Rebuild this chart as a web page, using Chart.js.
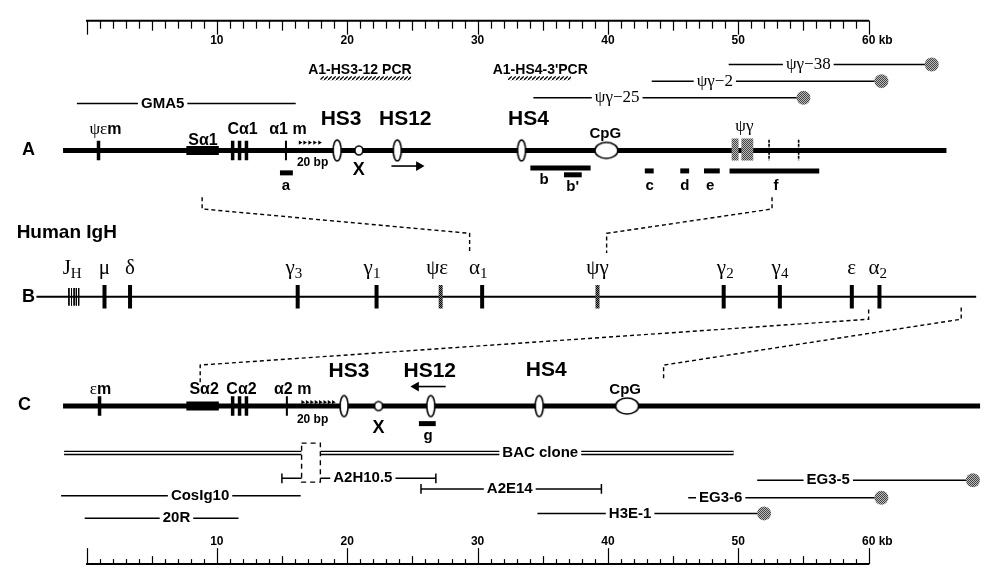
<!DOCTYPE html>
<html>
<head>
<meta charset="utf-8">
<script src="https://cdn.jsdelivr.net/npm/chart.js@4.4.1/dist/chart.umd.min.js"></script>
<style>
html, body { margin: 0; padding: 0; background: #fff; }
#wrap { width: 988px; height: 576px; }
</style>
</head>
<body>
<div id="wrap"><canvas id="mapa"></canvas></div>
<script>
// ===== Datos (posiciones en kb) =====
const rulerLength = 60;
const rulerLabels = [10, 20, 30, 40, 50, 60];

const mapNames = ['A', 'B', 'C'];
const mapStart = [-1.8, -3.84, -1.8];
const mapEnd = [65.97, 68.25, 68.55];

// Mapa A (región α1)
const genesA = [0.92, 11.21, 11.74, 12.27];          // ψεm, Cα1
const membraneA = [15.3];                              // α1 m
const switchA = [7.66, 10.15];                         // Sα1
const hsA = [19.23, 23.84, 33.37];                     // HS3, HS12, HS4
const xSiteA = [20.89];
const cpgA = [39.88];
const repeatsA = [16.38, 16.73, 17.11, 17.49, 17.87];  // 20 bp
const psiGammaA = [[49.49, 50.02], [50.24, 51.15]];
const psiTicksA = [52.36, 54.63];
const arrowA = [23.39, 25.5];

// Mapa B (IgH humano)
const genesB = [1.38, 3.34, 16.2, 22.25, 30.35, 48.88, 53.19, 58.71, 60.83];
const pseudoB = [27.17, 39.2];
const jhB = [-1.35, -1.15, -0.95, -0.78, -0.6];

// Mapa C (región α2)
const genesC = [1.0, 11.21, 11.74, 12.27];
const membraneC = [15.37];
const switchC = [7.66, 10.15];
const hsC = [19.76, 26.41, 34.73];
const xSiteC = [22.4];
const cpgC = [41.47];
const repeatsC = [16.58, 16.92, 17.26, 17.6, 17.93, 18.27, 18.6, 18.93];
const arrowC = [27.55, 25.28];

// Sondas
const probeNames = ['a', 'b', "b'", 'c', 'd', 'e', 'f', 'g'];
const probeStart = [14.84, 34.05, 36.63, 42.83, 45.55, 47.37, 49.33, 25.5];
const probeEnd = [15.83, 38.67, 37.99, 43.51, 46.23, 48.58, 56.21, 26.79];
const probeLabelKb = [15.3, 35.1, 37.3, 43.2, 45.9, 47.85, 52.9, 26.2];

// Productos de PCR
const pcrNames = ['A1-HS3-12 PCR', "A1-HS4-3'PCR"];
const pcrStart = [17.94, 32.32];
const pcrEnd = [24.9, 37.16];
const pcrLabelKb = [20.97, 34.81];

// Clones
const cloneNames = ['GMA5', 'ψγ−38', 'ψγ−2', 'ψγ−25', 'A2H10.5', 'A2E14', 'CosIg10', '20R', 'EG3-5', 'EG3-6', 'H3E-1'];
const cloneStart = [-0.74, 49.26, 43.36, 34.28, 14.99, 25.66, -1.95, -0.14, 51.45, 46.16, 34.59];
const cloneEnd = [16.05, 64.84, 60.98, 55.0, 26.8, 39.5, 16.43, 11.66, 68.0, 60.98, 51.98];
const cloneLabelKb = [5.84, 55.37, 48.2, 40.71, 21.2, 32.47, 8.71, 6.9, 56.9, 48.65, 41.7];
const cloneTail = ['', 'dot', 'dot', 'dot', 'bars', 'bars', '', '', 'dot', 'dot', 'dot'];

const bacName = 'BAC clone';
const bacRange = [-1.72, 49.64];
const bacGap = [16.5, 17.94];
const bacLabelKb = 34.81;

// Conectores punteados entre mapas
const linkTopKb = [8.87, 52.59, 60.0, 67.1];
const linkBottomKb = [29.39, 39.9, 8.72, 44.27];

// Rótulos de los mapas
const labelText = [
  'A', 'ψε|m', 'Sα1', 'Cα1', 'α1 m', 'HS3', 'HS12', 'HS4', 'CpG', 'ψγ', '20 bp', 'X',
  'Human IgH', 'B', 'J_H', 'μ', 'δ', 'γ_3', 'γ_1', 'ψε', 'α_1', 'ψγ', 'γ_2', 'γ_4', 'ε', 'α_2',
  'C', 'ε|m', 'Sα2', 'Cα2', 'α2 m', 'HS3', 'HS12', 'HS4', 'CpG', '20 bp', 'X'
];
const labelKb = [
  -4.45, 1.45, 8.94, 11.97, 15.45, 19.53, 24.45, 33.9, 39.8, 50.47, 17.34, 20.89,
  -5.36, -4.45, -1.1, 1.38, 3.34, 15.9, 21.9, 26.9, 30.05, 39.2, 49.0, 53.2, 58.7, 60.7,
  -4.75, 1.07, 9.02, 11.89, 15.82, 20.13, 26.33, 35.26, 41.32, 17.34, 22.4
];

// ===== Disposición (filas en unidades verticales) =====
const ROW = {
  rulerTop: 14, rulerTopText: 35, pcrText: 65, pcrBar: 73,
  A: 147, human: 231, bText: 268, B: 297, C: 409,
  bac: 457, gapTop: 447, gapBottom: 487,
  rulerBottomText: 548, rulerBottom: 571
};
const cloneRow = [99, 59, 76, 93, 483, 494, 501, 524, 485, 503, 519];
const probeRow = [170, 165, 172, 168, 168, 168, 168, 427];
const probeTextRow = [183, 177, 184, 183, 183, 183, 183, 440];
const linkRows = [[195, 207, 232, 252], [195, 207, 232, 252], [310, 320, 367, 385], [308, 320, 367, 382]];
const labelRow = [
  147, 126, 137, 126, 126, 115, 115, 115, 130, 122, 160, 167,
  231, 297, 268, 268, 268, 268, 268, 268, 268, 268, 268, 268, 268, 268,
  408, 392, 392, 392, 392, 373, 373, 372, 392, 423, 432
];
const labelStyle = [
  'letra', 'mixto', 'gen', 'gen', 'gen', 'hs', 'hs', 'hs', 'cpg', 'griegoA', 'chico', 'equis',
  'titulo', 'letra', 'griego', 'griego', 'griego', 'griego', 'griego', 'griego', 'griego', 'griego', 'griego', 'griego', 'griego', 'griego',
  'letra', 'mixto', 'gen', 'gen', 'gen', 'hs', 'hs', 'hs', 'cpg', 'chico', 'equis'
];
const cloneStyle = ['clon', 'griegoA', 'griegoA', 'griegoA', 'clon', 'clon', 'clon', 'clon', 'clon', 'clon', 'clon'];

const SANS = '"Liberation Sans", Arial, Helvetica, sans-serif';
const SERIF = '"Liberation Serif", "Times New Roman", serif';
const ESTILOS = {
  letra:   { font: `bold 18px ${SANS}` },
  titulo:  { font: `bold 19px ${SANS}`, align: 'left' },
  hs:      { font: `bold 21px ${SANS}` },
  gen:     { font: `bold 16px ${SANS}` },
  cpg:     { font: `bold 15px ${SANS}` },
  chico:   { font: `bold 12px ${SANS}` },
  equis:   { font: `bold 18px ${SANS}` },
  sonda:   { font: `bold 15px ${SANS}` },
  clon:    { font: `bold 15px ${SANS}` },
  pcr:     { font: `bold 14px ${SANS}` },
  griego:  { font: `21px ${SERIF}`, sub: `15px ${SERIF}` },
  griegoA: { font: `17px ${SERIF}` },
  mixto:   { font: `17px ${SERIF}`, alt: `bold 16px ${SANS}` },
  regla:   { font: `bold 12px ${SANS}` }
};

// ===== Patrones y marcas =====
function patron(size, pintar) {
  const c = document.createElement('canvas');
  c.width = size; c.height = size;
  const g = c.getContext('2d');
  pintar(g, size);
  return g.createPattern(c, 'repeat');
}
const punteado = patron(2, g => {
  g.fillStyle = '#bbb'; g.fillRect(0, 0, 2, 2);
  g.fillStyle = '#444'; g.fillRect(0, 0, 1, 1); g.fillRect(1, 1, 1, 1);
});
const punteadoOscuro = patron(2, g => {
  g.fillStyle = '#888'; g.fillRect(0, 0, 2, 2);
  g.fillStyle = '#000'; g.fillRect(0, 0, 1, 1); g.fillRect(1, 1, 1, 1);
});
const rayado = patron(4, g => {
  g.strokeStyle = '#000'; g.lineWidth = 1.3;
  g.beginPath(); g.moveTo(0, 4); g.lineTo(4, 0); g.stroke();
});

function ovalo(w, h) {
  const c = document.createElement('canvas');
  c.width = w + 4; c.height = h + 4;
  const g = c.getContext('2d');
  g.beginPath();
  g.ellipse(c.width / 2, c.height / 2, w / 2, h / 2, 0, 0, Math.PI * 2);
  g.fillStyle = '#fff'; g.fill();
  g.lineWidth = 1.6; g.strokeStyle = '#000'; g.stroke();
  return c;
}
const ovaloHS = ovalo(8, 21);
const ovaloX = ovalo(8, 9);
const ovaloCpG = ovalo(23, 16);

// ===== Construcción de datasets =====
const brk = x => ({ x, y: null });
const hseg = (x1, x2, y) => [{ x: x1, y }, { x: x2, y }, brk(x2)];
const vseg = (x, y1, y2) => [{ x, y: y1 }, { x, y: y2 }, brk(x)];

const conjuntos = [];
function add(data, opts) {
  conjuntos.push(Object.assign({
    data, showLine: true, borderColor: '#000', backgroundColor: '#000',
    borderWidth: 1.5, pointRadius: 0, pointHoverRadius: 0, spanGaps: false,
    fill: false, clip: false
  }, opts || {}));
}
function puntos(xs, row, opts) {
  add(xs.map(k => ({ x: k, y: row })), Object.assign({ showLine: false, borderWidth: 0 }, opts));
}

// conectores
linkTopKb.forEach((k, i) => {
  const r = linkRows[i];
  add([{ x: k, y: r[0] }, { x: k, y: r[1] }, { x: linkBottomKb[i], y: r[2] }, { x: linkBottomKb[i], y: r[3] }],
    { borderWidth: 1.4, borderDash: [4, 3] });
});

// líneas de los mapas
const mapRowY = [ROW.A, ROW.B, ROW.C];
const mapWidth = [5, 2, 5];
mapNames.forEach((n, i) => add(hseg(mapStart[i], mapEnd[i], mapRowY[i]), { borderWidth: mapWidth[i] }));

// clones
cloneNames.forEach((n, i) => add(hseg(cloneStart[i], cloneEnd[i], cloneRow[i]), { borderWidth: 1.5 }));
cloneNames.forEach((n, i) => {
  if (cloneTail[i] === 'bars') {
    add([...vseg(cloneStart[i], cloneRow[i] - 5, cloneRow[i] + 5), ...vseg(cloneEnd[i], cloneRow[i] - 5, cloneRow[i] + 5)], { borderWidth: 1.5 });
  }
});

// BAC (línea doble hueca)
const bacData = [...hseg(bacRange[0], bacGap[0], ROW.bac), ...hseg(bacGap[1], bacRange[1], ROW.bac)];
add(bacData, { borderWidth: 4.5 });
add(bacData, { borderWidth: 1.6, borderColor: '#fff' });
add([{ x: bacGap[0], y: ROW.gapTop }, { x: bacGap[1], y: ROW.gapTop }, { x: bacGap[1], y: ROW.gapBottom },
     { x: bacGap[0], y: ROW.gapBottom }, { x: bacGap[0], y: ROW.gapTop }],
  { borderWidth: 1.4, borderDash: [5, 4], fill: 'shape', backgroundColor: '#fff' });

// PCR rayado
pcrNames.forEach((n, i) => add(hseg(pcrStart[i], pcrEnd[i], ROW.pcrBar), { borderWidth: 4, borderColor: rayado }));

// regiones de switch
add([...hseg(switchA[0], switchA[1], ROW.A), ...hseg(switchC[0], switchC[1], ROW.C)], { borderWidth: 9 });

// genes
add([...genesA.flatMap(k => vseg(k, ROW.A - 10, ROW.A + 10)),
     ...genesC.flatMap(k => vseg(k, ROW.C - 10, ROW.C + 10))], { borderWidth: 3.5 });
add(genesB.flatMap(k => vseg(k, ROW.B - 12, ROW.B + 12)), { borderWidth: 4 });
add([...membraneA.flatMap(k => vseg(k, ROW.A - 10, ROW.A + 10)),
     ...membraneC.flatMap(k => vseg(k, ROW.C - 10, ROW.C + 10))], { borderWidth: 2 });
add(jhB.flatMap(k => vseg(k, ROW.B - 9, ROW.B + 9)), { borderWidth: 1 });
add(psiTicksA.flatMap(k => vseg(k, ROW.A - 11, ROW.A + 10)), { borderWidth: 1.6, borderDash: [3, 1] });
add(pseudoB.flatMap(k => vseg(k, ROW.B - 12, ROW.B + 12)), { borderWidth: 4, borderColor: punteadoOscuro });
add(psiGammaA.flatMap(r => hseg(r[0], r[1], ROW.A - 1)), { borderWidth: 22, borderColor: punteado });

// sondas
probeNames.forEach((n, i) => add(hseg(probeStart[i], probeEnd[i], probeRow[i]), { borderWidth: 5 }));

// flechas de orientación
add([{ x: arrowA[0], y: 163 }, { x: arrowA[1], y: 163 }],
  { borderWidth: 1.6, pointRadius: [0, 4], pointStyle: 'triangle', pointRotation: [0, 90] });
add([{ x: arrowC[0], y: 389 }, { x: arrowC[1], y: 389 }],
  { borderWidth: 1.6, pointRadius: [0, 4], pointStyle: 'triangle', pointRotation: [0, 270] });

// repeticiones de 20 bp
puntos(repeatsA, ROW.A - 8, { pointStyle: 'triangle', pointRotation: 90, pointRadius: 2.4 });
puntos(repeatsC, ROW.C - 4, { pointStyle: 'triangle', pointRotation: 90, pointRadius: 2.4 });

// sitios HS, X y CpG
puntos(hsA, ROW.A, { pointStyle: ovaloHS, pointRadius: 5 });
puntos(hsC, ROW.C, { pointStyle: ovaloHS, pointRadius: 5 });
puntos(xSiteA, ROW.A, { pointStyle: ovaloX, pointRadius: 4 });
puntos(xSiteC, ROW.C, { pointStyle: ovaloX, pointRadius: 4 });
puntos(cpgA, ROW.A, { pointStyle: ovaloCpG, pointRadius: 6 });
puntos(cpgC, ROW.C, { pointStyle: ovaloCpG, pointRadius: 6 });

// extremos punteados de los clones
add(cloneNames.map((n, i) => cloneTail[i] === 'dot' ? { x: cloneEnd[i], y: cloneRow[i] } : brk(cloneEnd[i])),
  { showLine: false, pointStyle: 'circle', pointRadius: 7, backgroundColor: punteado, borderWidth: 0 });

// orden de dibujo: los primeros quedan debajo
conjuntos.forEach((d, i) => { d.order = conjuntos.length - i; });

// ===== Texto y reglas =====
function piezas(t, est) {
  if (t.includes('_')) {
    const [a, b] = t.split('_');
    return [{ s: a, font: est.font, dy: 0 }, { s: b, font: est.sub, dy: 6 }];
  }
  if (t.includes('|')) {
    const [a, b] = t.split('|');
    return [{ s: a, font: est.font, dy: 0 }, { s: b, font: est.alt, dy: 0 }];
  }
  return [{ s: t, font: est.font, dy: 0 }];
}

function escribir(ctx, t, px, py, est, fondo) {
  const ps = piezas(t, est);
  ps.forEach(p => { ctx.font = p.font; p.w = ctx.measureText(p.s).width; });
  const total = ps.reduce((s, p) => s + p.w, 0);
  let x0 = est.align === 'left' ? px : px - total / 2;
  if (fondo) {
    ctx.fillStyle = '#fff';
    ctx.fillRect(x0 - 3, py - 6, total + 6, 12);
  }
  ctx.fillStyle = '#000';
  ctx.textAlign = 'left';
  ctx.textBaseline = 'middle';
  ps.forEach(p => { ctx.font = p.font; ctx.fillText(p.s, x0, py + p.dy); x0 += p.w; });
}

function regla(ctx, x, y, fila, filaTexto, dir, largos) {
  const y0 = y.getPixelForValue(fila);
  ctx.strokeStyle = '#000';
  ctx.lineWidth = 2;
  ctx.beginPath();
  ctx.moveTo(x.getPixelForValue(0) - 0.5, y0);
  ctx.lineTo(x.getPixelForValue(rulerLength) + 0.5, y0);
  ctx.stroke();
  ctx.lineWidth = 1.2;
  for (let k = 0; k <= rulerLength; k++) {
    const largo = k % 10 === 0 ? largos[2] : (k % 5 === 0 ? largos[1] : largos[0]);
    const px = Math.round(x.getPixelForValue(k)) + 0.5;
    ctx.beginPath();
    ctx.moveTo(px, y0);
    ctx.lineTo(px, y0 + dir * largo);
    ctx.stroke();
  }
  const yt = y.getPixelForValue(filaTexto);
  rulerLabels.forEach(v => {
    const px = x.getPixelForValue(v);
    escribir(ctx, String(v), px, yt, ESTILOS.regla, false);
    if (v === rulerLength) {
      ctx.font = ESTILOS.regla.font;
      const w = ctx.measureText(String(v)).width;
      ctx.textAlign = 'left';
      ctx.fillText(' kb', px + w / 2, yt);
    }
  });
}

const rotulos = {
  id: 'rotulos',
  afterDatasetsDraw(chart) {
    const { ctx, scales: { x, y } } = chart;
    ctx.save();
    regla(ctx, x, y, ROW.rulerTop, ROW.rulerTopText, 1, [8, 10, 14]);
    regla(ctx, x, y, ROW.rulerBottom, ROW.rulerBottomText, -1, [5, 8, 16]);

    cloneNames.forEach((t, i) => escribir(ctx, t, x.getPixelForValue(cloneLabelKb[i]),
      y.getPixelForValue(cloneRow[i]), ESTILOS[cloneStyle[i]], true));
    escribir(ctx, bacName, x.getPixelForValue(bacLabelKb), y.getPixelForValue(ROW.bac), ESTILOS.clon, true);

    pcrNames.forEach((t, i) => escribir(ctx, t, x.getPixelForValue(pcrLabelKb[i]),
      y.getPixelForValue(ROW.pcrText), ESTILOS.pcr, false));
    probeNames.forEach((t, i) => escribir(ctx, t, x.getPixelForValue(probeLabelKb[i]),
      y.getPixelForValue(probeTextRow[i]), ESTILOS.sonda, false));
    labelText.forEach((t, i) => escribir(ctx, t, x.getPixelForValue(labelKb[i]),
      y.getPixelForValue(labelRow[i]), ESTILOS[labelStyle[i]], false));
    ctx.restore();
  }
};

new Chart(document.getElementById('mapa'), {
  type: 'scatter',
  data: { datasets: conjuntos },
  options: {
    responsive: true,
    maintainAspectRatio: false,
    animation: false,
    events: [],
    layout: { padding: 0 },
    plugins: { legend: { display: false }, tooltip: { enabled: false } },
    scales: {
      x: { type: 'linear', display: false, min: -6.1, max: 68.62 },
      y: { type: 'linear', display: false, reverse: true, min: 0, max: 576 }
    }
  },
  plugins: [rotulos]
});
</script>
</body>
</html>
